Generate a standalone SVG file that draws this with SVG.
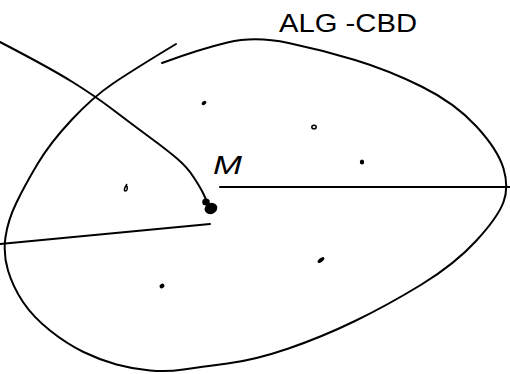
<svg xmlns="http://www.w3.org/2000/svg" width="510" height="374" viewBox="0 0 510 374">
<style>
.ink{fill:none;stroke:#000;stroke-width:2;stroke-linecap:round;stroke-linejoin:round}
.dot{fill:#000}
.lbl{font-family:"Liberation Sans",Arial,sans-serif;fill:#000}
</style>
<rect width="510" height="374" fill="#fff"/>
<g id="outline">
<path class="ink" d="M162,63 Q200,49 227.5,42.5 Q255,36 288.5,43 Q322,50 355,60 Q388,70 421.5,86.5 Q455,103 476.5,126.5 Q498,150 503.5,168.5 Q509,187 503.5,202 Q498,217 476.5,240.5 Q455,264 421.5,284.5 Q388,305 355,321 Q322,337 288.5,348.5 Q255,360 227.5,363.5 Q200,367 183.5,369.5 Q167,372 150,370.5 Q133,369 116.5,364.5 Q100,360 83.5,352 Q67,344 50,330.5 Q33,317 23,302 Q13,287 8,270.5 Q3,254 5.5,237 Q8,220 16.5,202.5 Q25,185 37.5,164 Q50,143 71.5,120 Q93,97 113,83.5 Q133,70 176,44"/>
</g>
<g id="connectors">
<path class="ink" d="M0,42 Q50,68 72.5,82 Q95,96 114,110.5 Q133,125 150,137.5 Q167,150 177,158.5 Q187,167 193.5,177 Q200,187 202.5,192 Q205,197 207,202"/>
<line class="ink" x1="220" y1="187" x2="510" y2="187" stroke-width="2.6"/>
<line class="ink" x1="0" y1="244" x2="210" y2="224"/>
</g>
<g id="center">
<ellipse class="dot" cx="206" cy="202" rx="3.8" ry="3.5"/>
<ellipse class="dot" cx="211" cy="208.5" rx="6.5" ry="5.5" transform="rotate(-20 211 208.5)"/>
<text class="lbl" x="213" y="174" font-size="26" font-family="Liberation Serif" font-style="italic" textLength="29" lengthAdjust="spacingAndGlyphs">M</text>
</g>
<g id="points">
<ellipse class="dot" cx="204" cy="103" rx="2.6" ry="1.8" transform="rotate(-35 204 103)"/>
<ellipse cx="314" cy="127" rx="2.2" ry="1.8" fill="none" stroke="#000" stroke-width="1.5"/>
<ellipse class="dot" cx="362" cy="162" rx="2.2" ry="2.6"/>
<path d="M127,184 Q123,190 125,191 Q128,191 127,186" fill="none" stroke="#000" stroke-width="1.5"/>
<ellipse class="dot" cx="162" cy="286" rx="2.6" ry="2.2" transform="rotate(-35 162 286)"/>
<ellipse class="dot" cx="321" cy="260" rx="4" ry="2" transform="rotate(-38 321 260)"/>
</g>
<g id="title">
<text class="lbl" x="279" y="32" font-size="26" textLength="138" lengthAdjust="spacingAndGlyphs">ALG -CBD</text>
</g>
</svg>
